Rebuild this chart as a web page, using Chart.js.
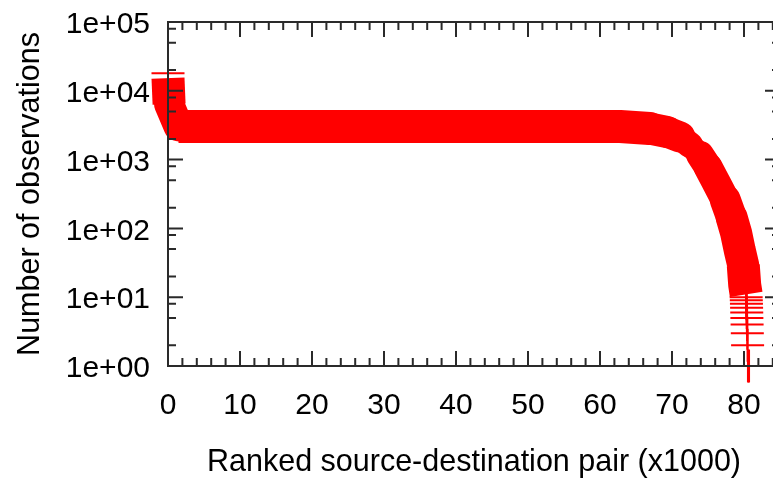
<!DOCTYPE html>
<html>
<head>
<meta charset="utf-8">
<title>Observations per ranked source-destination pair</title>
<script src="https://cdn.jsdelivr.net/npm/chart.js@4.4.1/dist/chart.umd.min.js"></script>
<style>
  html, body { margin: 0; padding: 0; overflow: hidden; background: #ffffff; }
  canvas { display: block; }
</style>
</head>
<body>
<canvas id="chart" width="790" height="478"></canvas>
<script>
// Rank of the pair (thousands) and its number of observations along the dense part of the curve
const bandRank  = [0, 0.15, 1.46, 10, 20, 30, 40, 50, 60, 62.8, 66.9, 69.3, 71.1, 72.5, 73.9, 75.0, 76.1, 77.4, 78.3, 78.9, 79.4, 79.9, 80.1, 80.3];
const bandCount = [15300, 6400, 3030, 3030, 3030, 3030, 3030, 3030, 3030, 3030, 2830, 2520, 2130, 1630, 1170, 780, 472, 259, 142, 86, 48.5, 29, 15, 11];

// The single busiest pair
const peakRank  = [0];
const peakCount = [18000];

// Pairs seen only a handful of times, at the end of the ranking
const tailRank  = [80.30, 80.32, 80.34, 80.36, 80.38, 80.40, 80.43, 80.46, 80.50, 80.55, 80.70];
const tailCount = [10, 9, 8, 7, 6, 5, 4, 3, 2, 1, 1];

// Axis ticks
const xTicks = [0, 10, 20, 30, 40, 50, 60, 70, 80];
const yTicks = [1, 10, 100, 1000, 10000, 100000];
const yTickLabels = ['1e+00', '1e+01', '1e+02', '1e+03', '1e+04', '1e+05'];

const RED = '#ff0000';
const INK = '#000000';
const AXIS = '#2a2a2a';
const MARK = 16.5;            // half-size of the "+" symbol

Chart.defaults.font.family = "'Liberation Sans', Arial, Helvetica, sans-serif";
Chart.defaults.color = INK;

function pairs(xs, ys) {
  return xs.map((x, i) => ({ x: x, y: ys[i] }));
}

// Stroke thickness matching the area swept by a run of "+" symbols
function bandWidth(c) {
  const dx = c.p1.x - c.p0.x, dy = c.p1.y - c.p0.y;
  const len = Math.hypot(dx, dy) || 1;
  return Math.round(2 * MARK * Math.max(Math.abs(dx), Math.abs(dy)) / len);
}
// Rounded ends close the joints along the bends; the two ends of the curve and the flat run stay square
function bandCap(c) {
  const n = bandRank.length;
  const dy = Math.abs(c.p1.y - c.p0.y);
  return (c.p0DataIndex >= 1 && c.p1DataIndex <= n - 3 && dy > 0.5) ? 'round' : 'butt';
}

// Box around the plot with inward tics on every side
const framePlugin = {
  id: 'frame',
  afterDatasetsDraw(chart) {
    const { ctx, chartArea: a, scales: { x, y } } = chart;
    ctx.save();
    ctx.strokeStyle = AXIS;
    ctx.lineWidth = 2;
    ctx.beginPath();
    ctx.rect(a.left, a.top, a.right - a.left, a.bottom - a.top);
    for (let v = 0; v <= x.max; v += 2) {
      const p = x.getPixelForValue(v);
      const len = v % 10 === 0 ? 15 : 8;
      ctx.moveTo(p, a.bottom); ctx.lineTo(p, a.bottom - len);
      ctx.moveTo(p, a.top);    ctx.lineTo(p, a.top + len);
    }
    yTicks.forEach(d => {
      [1, 2, 5, 8].forEach(m => {
        const v = d * m;
        if (v > y.max) return;
        const p = y.getPixelForValue(v);
        const len = m === 1 ? 15 : 8;
        ctx.moveTo(a.left, p);  ctx.lineTo(a.left + len, p);
        ctx.moveTo(a.right, p); ctx.lineTo(a.right - len, p);
      });
    });
    ctx.stroke();
    ctx.restore();
  }
};

new Chart(document.getElementById('chart'), {
  type: 'scatter',
  data: {
    datasets: [
      {
        label: 'ranked pairs',
        data: pairs(bandRank, bandCount),
        showLine: true,
        borderColor: RED,
        borderWidth: 2 * MARK,
        borderCapStyle: 'butt',
        borderJoinStyle: 'bevel',
        pointRadius: 0,
        clip: false,
        segment: { borderWidth: bandWidth, borderCapStyle: bandCap }
      },
      {
        label: 'busiest pair',
        data: pairs(peakRank, peakCount),
        showLine: false,
        pointStyle: 'cross',
        pointRadius: MARK,
        pointBorderWidth: 2,
        pointBorderColor: RED,
        clip: false
      },
      {
        label: 'rare pairs',
        data: pairs(tailRank, tailCount),
        showLine: false,
        pointStyle: 'cross',
        pointRadius: MARK,
        pointBorderWidth: 2,
        pointBorderColor: RED,
        clip: false
      }
    ]
  },
  options: {
    responsive: false,
    animation: false,
    devicePixelRatio: 1,
    events: [],
    layout: { padding: { left: 0, top: 22, right: 10, bottom: 0 }, autoPadding: false },
    plugins: { legend: { display: false }, tooltip: { enabled: false } },
    scales: {
      x: {
        type: 'linear',
        position: 'bottom',
        min: 0,
        max: 85,
        grid: { display: false, drawTicks: false },
        border: { display: false },
        afterBuildTicks: s => { s.ticks = xTicks.map(v => ({ value: v })); },
        afterFit: s => { s.height = 112; s.paddingLeft = 0; s.paddingRight = 0; },
        ticks: {
          autoSkip: false,
          maxRotation: 0,
          padding: 22,
          color: INK,
          font: { size: 30, lineHeight: 1.2 },
          callback: v => String(v)
        },
        title: {
          display: true,
          text: 'Ranked source-destination pair (x1000)',
          color: INK,
          font: { size: 30.5, lineHeight: 1 },
          padding: { top: 0, bottom: 0 }
        }
      },
      y: {
        type: 'logarithmic',
        position: 'left',
        min: 1,
        max: 100000,
        grid: { display: false, drawTicks: false },
        border: { display: false },
        afterBuildTicks: s => { s.ticks = yTicks.map(v => ({ value: v, major: true })); },
        afterFit: s => { s.width = 168; s.paddingTop = 0; s.paddingBottom = 0; },
        ticks: {
          autoSkip: false,
          padding: 18,
          labelOffset: 3,
          color: INK,
          font: { size: 30, lineHeight: 1.2 },
          callback: v => yTickLabels[yTicks.indexOf(v)]
        },
        title: {
          display: true,
          text: 'Number of observations',
          color: INK,
          font: { size: 30.5, lineHeight: 1 },
          padding: { top: 15, bottom: 0 }
        }
      }
    }
  },
  plugins: [framePlugin]
});
</script>
</body>
</html>
